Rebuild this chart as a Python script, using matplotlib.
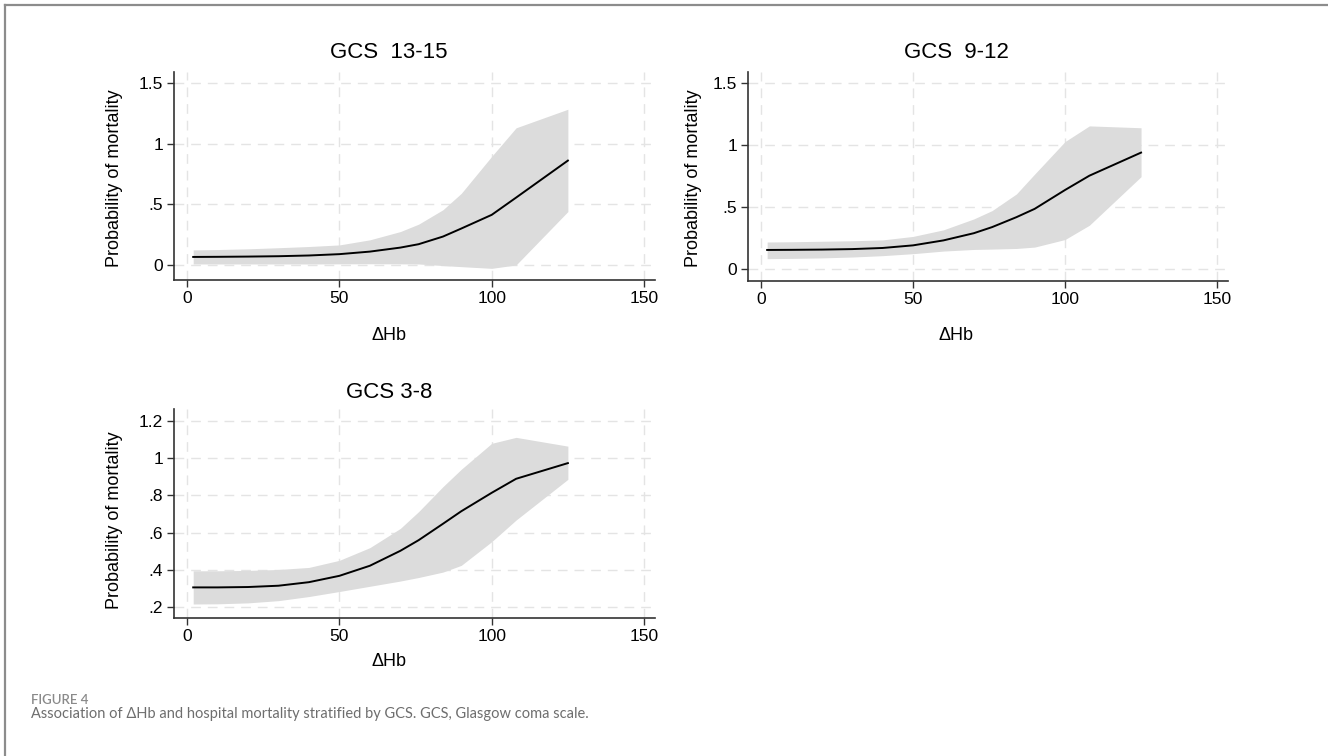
import matplotlib
matplotlib.use("Agg")
import matplotlib.pyplot as plt
from matplotlib.lines import Line2D

# ---------------- data ----------------
dhb = [2, 10, 20, 30, 40, 50, 60, 70, 76, 84, 90, 100, 108, 125]

gcs1315_mean = [0.066, 0.067, 0.069, 0.072, 0.078, 0.089, 0.110, 0.143, 0.171, 0.234, 0.300, 0.413, 0.555, 0.86]
gcs1315_upper = [0.124, 0.127, 0.133, 0.142, 0.152, 0.165, 0.207, 0.275, 0.336, 0.455, 0.59, 0.895, 1.13, 1.283]
gcs1315_lower = [0.008, 0.008, 0.008, 0.008, 0.008, 0.009, 0.010, 0.009, 0.008, -0.005, -0.014, -0.028, 0.0, 0.44]

gcs912_mean = [0.156, 0.157, 0.159, 0.163, 0.172, 0.193, 0.233, 0.291, 0.34, 0.42, 0.487, 0.639, 0.754, 0.94]
gcs912_upper = [0.22, 0.222, 0.226, 0.23, 0.237, 0.265, 0.318, 0.406, 0.473, 0.607, 0.767, 1.029, 1.155, 1.14]
gcs912_lower = [0.086, 0.088, 0.092, 0.099, 0.11, 0.126, 0.147, 0.16, 0.163, 0.168, 0.179, 0.24, 0.355, 0.746]

gcs38_mean = [0.307, 0.307, 0.309, 0.316, 0.335, 0.369, 0.423, 0.503, 0.56, 0.648, 0.715, 0.814, 0.889, 0.973]
gcs38_upper = [0.396, 0.396, 0.398, 0.403, 0.414, 0.452, 0.52, 0.623, 0.713, 0.847, 0.94, 1.079, 1.111, 1.064]
gcs38_lower = [0.218, 0.219, 0.224, 0.236, 0.258, 0.285, 0.313, 0.341, 0.36, 0.389, 0.425, 0.552, 0.668, 0.886]

titles = ["GCS  13-15", "GCS  9-12", "GCS 3-8"]
x_ticks = [0, 50, 100, 150]
x_ticklabels = ["0", "50", "100", "150"]
y_ticks_a = [0, 0.5, 1, 1.5]
y_ticklabels_a = ["0", ".5", "1", "1.5"]
y_ticks_b = [0.2, 0.4, 0.6, 0.8, 1.0, 1.2]
y_ticklabels_b = [".2", ".4", ".6", ".8", "1", "1.2"]
x_label = "ΔHb"
y_label = "Probability of mortality"
caption_head = "FIGURE 4"
caption_text = "Association of ΔHb and hospital mortality stratified by GCS. GCS, Glasgow coma scale."

# ---------------- figure ----------------
W, H = 1328, 756
plt.rcParams['font.family'] = ['Liberation Sans', 'DejaVu Sans']
fig = plt.figure(figsize=(W / 100, H / 100), dpi=100)


def rect(l, r, t, b):
    return [l / W, 1 - b / H, (r - l) / W, (b - t) / H]


def fx(x):
    return x / W


def fy(y):
    return 1 - y / H


panels = [
    dict(pos=rect(174, 655, 72, 280), mean=gcs1315_mean, up=gcs1315_upper, lo=gcs1315_lower,
         ylim=(-0.124, 1.59), yt=y_ticks_a, ytl=y_ticklabels_a, title=titles[0],
         title_xy=(389, 52), xl_xy=(389, 335), yl_xy=(115, 178)),
    dict(pos=rect(748, 1228, 72, 281), mean=gcs912_mean, up=gcs912_upper, lo=gcs912_lower,
         ylim=(-0.094, 1.589), yt=y_ticks_a, ytl=y_ticklabels_a, title=titles[1],
         title_xy=(956, 52), xl_xy=(956, 335), yl_xy=(693, 178)),
    dict(pos=rect(174, 655, 409, 618), mean=gcs38_mean, up=gcs38_upper, lo=gcs38_lower,
         ylim=(0.143, 1.263), yt=y_ticks_b, ytl=y_ticklabels_b, title=titles[2],
         title_xy=(389, 392), xl_xy=(389, 662), yl_xy=(115, 520)),
]

for p in panels:
    ax = fig.add_axes(p['pos'])
    ax.fill_between(dhb, p['lo'], p['up'], color='#dcdcdc', linewidth=0, zorder=2)
    ax.plot(dhb, p['mean'], color='black', linewidth=1.4, zorder=3,
            solid_joinstyle='round')
    ax.set_xlim(-4.3, 153.6)
    ax.set_ylim(*p['ylim'])
    ax.set_xticks(x_ticks)
    ax.set_xticklabels(x_ticklabels)
    ax.set_yticks(p['yt'])
    ax.set_yticklabels(p['ytl'])
    ax.grid(True, color='#e4e4e4', linestyle=(0, (7, 5)), linewidth=1.0, zorder=1)
    ax.set_axisbelow(True)
    for s in ['top', 'right']:
        ax.spines[s].set_visible(False)
    for s in ['left', 'bottom']:
        ax.spines[s].set_color('#333333')
        ax.spines[s].set_linewidth(1.2)
    ax.tick_params(axis='both', direction='out', length=5, width=1.0, color='#333333',
                   labelsize=12.5, pad=3, labelcolor='black')
    fig.text(fx(p['title_xy'][0]), fy(p['title_xy'][1]), p['title'], ha='center', va='center',
             fontsize=16, color='black')
    fig.text(fx(p['xl_xy'][0]), fy(p['xl_xy'][1]), x_label, ha='center', va='center',
             fontsize=13, color='black')
    fig.text(fx(p['yl_xy'][0]), fy(p['yl_xy'][1]), y_label, ha='center', va='center',
             fontsize=13, rotation=90, color='black')

# frame lines (left and top)
fig.add_artist(Line2D([fx(5), fx(5)], [fy(5), 0], transform=fig.transFigure, color='#8c8c8c', linewidth=1.6))
fig.add_artist(Line2D([fx(5), 1], [fy(5), fy(5)], transform=fig.transFigure, color='#8c8c8c', linewidth=1.6))

# caption
fig.text(fx(31), fy(700), caption_head, ha='left', va='center', fontsize=9.5, color='#8a8a8a',
         family=['Lato', 'DejaVu Sans'], fontweight='semibold')
fig.text(fx(31), fy(714), caption_text, ha='left', va='center', fontsize=10.5, color='#6e6e6e',
         family=['Lato', 'DejaVu Sans'])

fig.savefig('out.png', dpi=100)
